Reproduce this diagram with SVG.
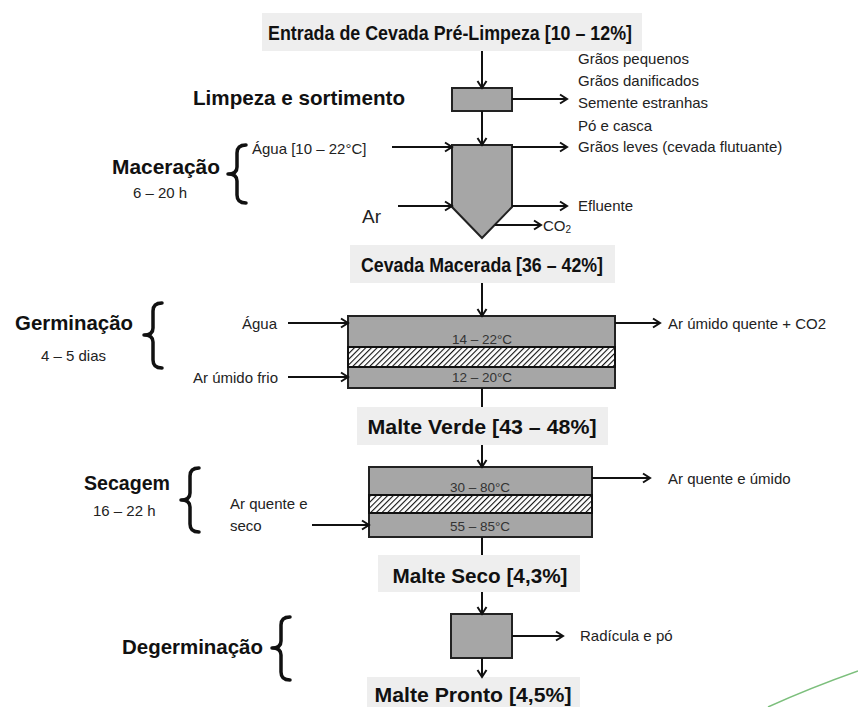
<svg xmlns="http://www.w3.org/2000/svg" width="858" height="707" viewBox="0 0 858 707">
<style>
  text { font-family: "Liberation Sans", Arial, sans-serif; }
  .h { font-weight: bold; font-size: 21px; fill: #111; }
  .s { font-size: 15px; fill: #222; }
  .t { font-size: 13.5px; fill: #333; text-anchor: middle; }
  .hdr { fill: #eeeeee; }
  .unit { fill: #a6a6a6; stroke: #222; stroke-width: 2; }
  .hatch { fill: url(#hp); stroke: #111; stroke-width: 2; }
  .brace { fill: none; stroke: #111; stroke-width: 3.5; stroke-linecap: round; stroke-linejoin: round; }
  .c line { stroke: #111; stroke-width: 2; }
  .c .a { marker-end: url(#ah); }
</style>
<defs>
  <marker id="ah" markerWidth="12" markerHeight="12" refX="10" refY="6" orient="auto" markerUnits="userSpaceOnUse">
    <path d="M3,1.5 L10,6 L3,10.5" fill="none" stroke="#111" stroke-width="2"/>
  </marker>
  <pattern id="hp" width="4" height="4" patternUnits="userSpaceOnUse" patternTransform="rotate(45)">
    <rect width="4" height="4" fill="#fff"/>
    <line x1="0" y1="0" x2="0" y2="4" stroke="#111" stroke-width="2.2"/>
  </pattern>
</defs>
<rect width="858" height="707" fill="#fff"/>

<g id="entrada">
  <rect class="hdr" x="262" y="13" width="380" height="38"/>
  <text class="h" x="268" y="40" font-size="22" textLength="364" lengthAdjust="spacingAndGlyphs">Entrada de Cevada Pré-Limpeza [10 – 12%]</text>
</g>

<g id="limpeza">
  <rect class="unit" x="452" y="88" width="60" height="23"/>
  <text class="h" x="193" y="105" font-size="19" textLength="212" lengthAdjust="spacingAndGlyphs">Limpeza e sortimento</text>
  <text class="s" x="578" y="64">Grãos pequenos</text>
  <text class="s" x="578" y="86">Grãos danificados</text>
  <text class="s" x="578" y="108">Semente estranhas</text>
  <text class="s" x="578" y="131">Pó e casca</text>
</g>

<g id="maceracao">
  <polygon class="unit" points="452,145 512,145 512,207 482,238 452,207"/>
  <text class="h" x="112" y="174" font-size="20" textLength="108" lengthAdjust="spacingAndGlyphs">Maceração</text>
  <text class="s" x="133" y="198" fill="#333">6 – 20 h</text>
  <path class="brace" d="M246,145 Q237,145 237,153 L237,167 Q237,174 228,174 Q237,174 237,181 L237,195 Q237,203 246,203"/>
  <text class="s" x="252" y="154">Água [10 – 22°C]</text>
  <text x="362" y="223" font-size="19" fill="#222">Ar</text>
  <text class="s" x="578" y="152">Grãos leves (cevada flutuante)</text>
  <text class="s" x="578" y="211">Efluente</text>
  <text class="s" x="543" y="231">CO<tspan font-size="10" dy="2">2</tspan></text>
</g>

<g id="cevada-macerada">
  <rect class="hdr" x="350" y="245" width="265" height="38"/>
  <text class="h" x="482" y="272" text-anchor="middle" textLength="242" lengthAdjust="spacingAndGlyphs">Cevada Macerada [36 – 42%]</text>
</g>

<g id="germinacao">
  <rect class="unit" x="348" y="316" width="267" height="72"/>
  <rect class="hatch" x="348" y="347" width="267" height="20"/>
  <text class="t" x="482" y="344">14 – 22°C</text>
  <text class="t" x="482" y="382">12 – 20°C</text>
  <text class="h" x="15" y="330" font-size="20" textLength="118" lengthAdjust="spacingAndGlyphs">Germinação</text>
  <text class="s" x="41" y="361" fill="#333">4 – 5 dias</text>
  <path class="brace" d="M162,303 Q153,303 153,311 L153,328 Q153,335 144,335 Q153,335 153,342 L153,360 Q153,368 162,368"/>
  <text class="s" x="277" y="329" text-anchor="end">Água</text>
  <text class="s" x="278" y="383" text-anchor="end">Ar úmido frio</text>
  <text class="s" x="668" y="329">Ar úmido quente + CO2</text>
</g>

<g id="malte-verde">
  <rect class="hdr" x="357" y="407" width="251" height="38"/>
  <text class="h" x="482" y="434" text-anchor="middle" textLength="229" lengthAdjust="spacingAndGlyphs">Malte Verde [43 – 48%]</text>
</g>

<g id="secagem">
  <rect class="unit" x="369" y="467" width="223" height="70"/>
  <rect class="hatch" x="369" y="495" width="223" height="18"/>
  <text class="t" x="480" y="492">30 – 80°C</text>
  <text class="t" x="480" y="531">55 – 85°C</text>
  <text class="h" x="84" y="490" font-size="20" textLength="86" lengthAdjust="spacingAndGlyphs">Secagem</text>
  <text class="s" x="93" y="516" fill="#333">16 – 22 h</text>
  <path class="brace" d="M199,468 Q190,468 190,476 L190,493 Q190,500 181,500 Q190,500 190,507 L190,524 Q190,532 199,532"/>
  <text class="s" x="230" y="509">Ar quente e</text>
  <text class="s" x="230" y="531">seco</text>
  <text class="s" x="668" y="484">Ar quente e úmido</text>
</g>

<g id="malte-seco">
  <rect class="hdr" x="378" y="555" width="202" height="37"/>
  <text class="h" x="480" y="583" text-anchor="middle" textLength="175" lengthAdjust="spacingAndGlyphs">Malte Seco [4,3%]</text>
</g>

<g id="degerminacao">
  <rect class="unit" x="451" y="614" width="61" height="44"/>
  <text class="h" x="122" y="654" font-size="20" textLength="141" lengthAdjust="spacingAndGlyphs">Degerminação</text>
  <path class="brace" d="M290,617 Q281,617 281,625 L281,641 Q281,648 272,648 Q281,648 281,655 L281,672 Q281,680 290,680"/>
  <text class="s" x="580" y="641">Radícula e pó</text>
</g>

<g id="malte-pronto">
  <rect class="hdr" x="367" y="677" width="213" height="32"/>
  <text class="h" x="473" y="702" text-anchor="middle" textLength="197" lengthAdjust="spacingAndGlyphs">Malte Pronto [4,5%]</text>
</g>

<g id="connectors" class="c">
  <line class="a" x1="482" y1="51" x2="482" y2="88"/>
  <line class="a" x1="512" y1="99" x2="567" y2="99"/>
  <line class="a" x1="482" y1="111" x2="482" y2="145"/>
  <line class="a" x1="392" y1="147" x2="452" y2="147"/>
  <line class="a" x1="512" y1="147" x2="567" y2="147"/>
  <line class="a" x1="398" y1="206" x2="452" y2="206"/>
  <line class="a" x1="512" y1="206" x2="567" y2="206"/>
  <line class="a" x1="495" y1="225" x2="541" y2="225"/>
  <line class="a" x1="482" y1="283" x2="482" y2="316"/>
  <line class="a" x1="288" y1="323" x2="348" y2="323"/>
  <line class="a" x1="288" y1="377" x2="348" y2="377"/>
  <line class="a" x1="615" y1="323" x2="660" y2="323"/>
  <line x1="482" y1="388" x2="482" y2="407"/>
  <line class="a" x1="482" y1="445" x2="482" y2="467"/>
  <line class="a" x1="312" y1="525" x2="369" y2="525"/>
  <line class="a" x1="592" y1="478" x2="650" y2="478"/>
  <line x1="482" y1="537" x2="482" y2="555"/>
  <line class="a" x1="482" y1="592" x2="482" y2="614"/>
  <line class="a" x1="512" y1="636" x2="563" y2="636"/>
  <line class="a" x1="482" y1="658" x2="482" y2="677"/>
</g>

<path d="M768,707 Q810,688 858,671" fill="none" stroke="#7cbf7c" stroke-width="1.5"/>
</svg>
